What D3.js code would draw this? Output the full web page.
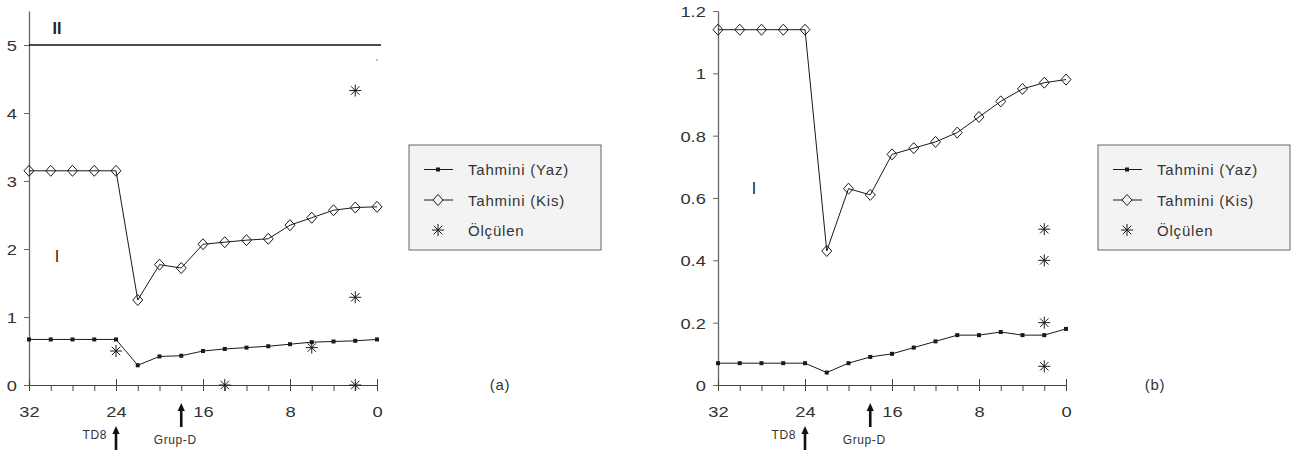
<!DOCTYPE html>
<html>
<head>
<meta charset="utf-8">
<script src="https://cdn.jsdelivr.net/npm/d3@7"></script>
<style>
  html, body { margin: 0; padding: 0; background: #ffffff; }
  svg { display: block; }
  text { font-family: "Liberation Sans", Arial, sans-serif; fill: #333; }
</style>
</head>
<body>
<svg id="chart" width="1300" height="450"></svg>
<script>
// ---------------- DATA ----------------
const ages = [32, 30, 28, 26, 24, 22, 20, 18, 16, 14, 12, 10, 8, 6, 4, 2, 0];
const xMajorTicks = [32, 24, 16, 8, 0];
const xMinorTicks = [32, 30, 28, 26, 24, 22, 20, 18, 16, 14, 12, 10, 8, 6, 4, 2, 0];

// Panel (a)
const yazA = [0.67, 0.67, 0.67, 0.67, 0.67, 0.29, 0.42, 0.43, 0.50, 0.53, 0.55, 0.57, 0.60, 0.63, 0.64, 0.65, 0.67];
const kisA = [3.15, 3.15, 3.15, 3.15, 3.15, 1.25, 1.77, 1.72, 2.07, 2.10, 2.13, 2.15, 2.35, 2.46, 2.57, 2.61, 2.62];
const olcAx = [24, 14, 6, 2, 2, 2];
const olcAy = [0.50, 0.00, 0.55, 0.00, 1.29, 4.33];
const yTicksA = [0, 1, 2, 3, 4, 5];
const limitA = 5;          // zone II boundary
const strayA = [0, 4.78];  // tiny dot in reference

// Panel (b)
const yazB = [0.07, 0.07, 0.07, 0.07, 0.07, 0.04, 0.07, 0.09, 0.10, 0.12, 0.14, 0.16, 0.16, 0.17, 0.16, 0.16, 0.18];
const kisB = [1.14, 1.14, 1.14, 1.14, 1.14, 0.43, 0.63, 0.61, 0.74, 0.76, 0.78, 0.81, 0.86, 0.91, 0.95, 0.97, 0.98];
const olcBx = [2, 2, 2, 2];
const olcBy = [0.50, 0.40, 0.20, 0.06];
const yTicksB = [0, 0.2, 0.4, 0.6, 0.8, 1, 1.2];

const legendLabels = ["Tahmini (Yaz)", "Tahmini (Kis)", "Ölçülen"];
const arrowMarks = [{ age: 24, label: "TD8" }, { age: 18, label: "Grup-D" }];

// ---------------- DRAW ----------------
const svg = d3.select("#chart");
const INK = "#1a1a1a";

function starPath(r) {
  const d = r * Math.SQRT1_2;
  return `M${-r},0L${r},0M0,${-r}L0,${r}M${-d},${-d}L${d},${d}M${-d},${d}L${d},${-d}`;
}

function drawPanel(cfg) {
  const g = svg.append("g");
  const x = d3.scaleLinear().domain([32, 0]).range([cfg.x0, cfg.x0 + 348]);
  const y = d3.scaleLinear().domain([0, cfg.yMax]).range([385, 11]);

  // Y axis
  const yAxis = g.append("g").attr("transform", `translate(${cfg.x0},0)`)
    .call(d3.axisLeft(y).tickValues(cfg.yTicks).tickSize(5).tickSizeOuter(0)
      .tickFormat(d => String(d)));
  yAxis.select(".domain").attr("stroke", "#666").attr("stroke-width", 1.3);
  yAxis.selectAll(".tick line").attr("stroke", "#666");
  yAxis.selectAll(".tick text")
    .attr("x", -10).attr("dy", "0.36em")
    .attr("transform", "scale(1.22,1)")
    .style("font-size", "15px").style("fill", "#333");

  // X axis
  const xAxis = g.append("g").attr("transform", "translate(0,385)")
    .call(d3.axisBottom(x).tickValues(xMinorTicks).tickSize(6).tickSizeOuter(0)
      .tickFormat(d => xMajorTicks.includes(d) ? String(d) : ""));
  xAxis.select(".domain").attr("stroke", "#444").attr("stroke-width", 1.2);
  xAxis.selectAll(".tick line").attr("stroke", "#444")
    .attr("y1", d => xMajorTicks.includes(d) ? -6 : 0);
  xAxis.selectAll(".tick text")
    .attr("y", 32).attr("dy", 0)
    .attr("transform", "scale(1.22,1)")
    .style("font-size", "15px").style("fill", "#333");

  // optional limit line
  if (cfg.limit !== undefined) {
    g.append("line")
      .attr("x1", x(32)).attr("x2", x(0) + 4)
      .attr("y1", y(cfg.limit)).attr("y2", y(cfg.limit))
      .attr("stroke", "#111").attr("stroke-width", 1.5);
  }
  if (cfg.stray) {
    g.append("circle").attr("cx", x(cfg.stray[0])).attr("cy", y(cfg.stray[1]))
      .attr("r", 0.8).attr("fill", "#777");
  }

  const line = d3.line().x((d, i) => x(ages[i])).y(d => y(d));

  // Kis series
  g.append("path").datum(cfg.kis).attr("d", line)
    .attr("fill", "none").attr("stroke", INK).attr("stroke-width", 1);
  g.selectAll(".dia").data(cfg.kis).join("path").attr("class", "dia")
    .attr("d", "M0,-5.5L5,0L0,5.5L-5,0Z")
    .attr("transform", (d, i) => `translate(${x(ages[i])},${y(d)})`)
    .attr("fill", "none").attr("stroke", INK).attr("stroke-width", 1);

  // Yaz series
  g.append("path").datum(cfg.yaz).attr("d", line)
    .attr("fill", "none").attr("stroke", INK).attr("stroke-width", 1);
  g.selectAll(".sq").data(cfg.yaz).join("rect").attr("class", "sq")
    .attr("x", (d, i) => x(ages[i]) - 2).attr("y", d => y(d) - 2)
    .attr("width", 4).attr("height", 4).attr("fill", INK);

  // Measured
  g.selectAll(".star").data(cfg.olcY).join("path").attr("class", "star")
    .attr("d", starPath(6))
    .attr("transform", (d, i) => `translate(${x(cfg.olcX[i])},${y(d)})`)
    .attr("fill", "none").attr("stroke", INK).attr("stroke-width", 1);

  // Zone labels
  cfg.zones.forEach(z => {
    g.append("text").attr("x", z.x).attr("y", z.y)
      .attr("text-anchor", "middle")
      .style("font-size", "16px")
      .style("font-weight", z.bold ? "bold" : "normal")
      .style("fill", "#222")
      .text(z.t);
  });

  // Arrows
  arrowMarks.forEach(a => {
    const ax = x(a.age);
    const top = a.label === "TD8" ? 426 : 403;
    const bot = a.label === "TD8" ? 452 : 427;
    g.append("line").attr("x1", ax).attr("x2", ax)
      .attr("y1", top + 5).attr("y2", bot)
      .attr("stroke", "#111").attr("stroke-width", 2.6);
    g.append("path")
      .attr("d", `M${ax},${top}L${ax + 3.6},${top + 8}L${ax - 3.6},${top + 8}Z`)
      .attr("fill", "#111");
    if (a.label === "TD8") {
      g.append("text").attr("x", ax - 9).attr("y", 438.5)
        .attr("text-anchor", "end").style("font-size", "12px").style("letter-spacing", "0.6px")
        .text(a.label);
    } else {
      g.append("text").attr("x", ax - 6).attr("y", 444)
        .attr("text-anchor", "middle").style("font-size", "12px").style("letter-spacing", "0.6px")
        .text(a.label);
    }
  });

  // Legend
  const lg = g.append("g").attr("transform", `translate(${cfg.legX},145)`);
  lg.append("rect").attr("x", 0).attr("y", 0).attr("width", 192).attr("height", 105)
    .attr("fill", "#f3f3f3").attr("stroke", "#666").attr("stroke-width", 1);
  const rows = [24.5, 55, 85];
  const mx = 29;
  // row 1
  lg.append("line").attr("x1", 15).attr("x2", 44).attr("y1", rows[0]).attr("y2", rows[0])
    .attr("stroke", INK).attr("stroke-width", 1);
  lg.append("rect").attr("x", mx - 2).attr("y", rows[0] - 2).attr("width", 4).attr("height", 4).attr("fill", INK);
  // row 2
  lg.append("line").attr("x1", 15).attr("x2", 44).attr("y1", rows[1]).attr("y2", rows[1])
    .attr("stroke", INK).attr("stroke-width", 1);
  lg.append("path").attr("d", "M0,-5.5L5,0L0,5.5L-5,0Z")
    .attr("transform", `translate(${mx},${rows[1]})`)
    .attr("fill", "#f3f3f3").attr("stroke", INK).attr("stroke-width", 1);
  // row 3
  lg.append("path").attr("d", starPath(6)).attr("transform", `translate(${mx},${rows[2]})`)
    .attr("fill", "none").attr("stroke", INK).attr("stroke-width", 1);
  legendLabels.forEach((t, i) => {
    lg.append("text").attr("x", 59).attr("y", rows[i] + 5.5)
      .style("font-size", "15px").style("letter-spacing", "0.8px").style("fill", "#333")
      .text(t);
  });

  // panel tag
  g.append("text").attr("x", cfg.tagX).attr("y", 390)
    .attr("text-anchor", "middle").style("font-size", "15px").style("letter-spacing", "0.8px")
    .text(cfg.tag);
}

drawPanel({
  x0: 29, yMax: 5.5, yTicks: yTicksA,
  yaz: yazA, kis: kisA, olcX: olcAx, olcY: olcAy,
  limit: limitA, stray: strayA,
  zones: [{ t: "II", x: 57, y: 34, bold: true }, { t: "I", x: 57, y: 262, bold: false }],
  legX: 409, tag: "(a)", tagX: 500
});

drawPanel({
  x0: 718, yMax: 1.2, yTicks: yTicksB,
  yaz: yazB, kis: kisB, olcX: olcBx, olcY: olcBy,
  zones: [{ t: "I", x: 754, y: 194, bold: false }],
  legX: 1098, tag: "(b)", tagX: 1155
});
</script>
</body>
</html>
